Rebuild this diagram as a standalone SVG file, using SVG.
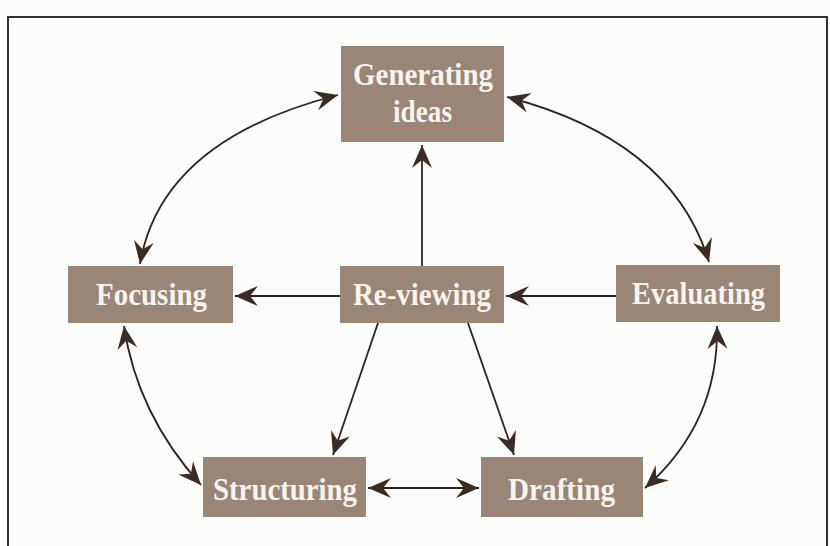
<svg xmlns="http://www.w3.org/2000/svg" width="830" height="546" viewBox="0 0 830 546">
<style>
.box{fill:#9a8677;}
.lbl{font-family:"Liberation Serif","Times New Roman",serif;font-weight:bold;font-size:32px;fill:#f7f4ef;}
.ln{fill:none;stroke:#2b2320;stroke-width:1.8;}
</style>
<defs>
<marker id="ah" markerUnits="userSpaceOnUse" markerWidth="26" markerHeight="24" viewBox="-24 -12 26 24" refX="0" refY="0" orient="auto-start-reverse">
<path d="M0,0 L-23,-10 L-15,0 L-23,10 Z" fill="#3b2b26"/>
</marker>
</defs>
<rect x="0" y="0" width="830" height="546" fill="#fcfcfa"/>
<rect x="8" y="17" width="819" height="545" fill="none" stroke="#333" stroke-width="2"/>
<g id="connectors">
<line class="ln" x1="422" y1="266" x2="422" y2="145" marker-end="url(#ah)"/>
<line class="ln" x1="340" y1="296" x2="235" y2="296" marker-end="url(#ah)"/>
<line class="ln" x1="616" y1="296" x2="506" y2="296" marker-end="url(#ah)"/>
<line class="ln" x1="378" y1="323" x2="333" y2="455" marker-end="url(#ah)"/>
<line class="ln" x1="468" y1="323" x2="514" y2="455" marker-end="url(#ah)"/>
<line class="ln" x1="368" y1="488" x2="479" y2="488" marker-start="url(#ah)" marker-end="url(#ah)"/>
<path class="ln" d="M140,264 Q161,140 338,95" marker-start="url(#ah)" marker-end="url(#ah)"/>
<path class="ln" d="M507,97 Q672,140 709,262" marker-start="url(#ah)" marker-end="url(#ah)"/>
<path class="ln" d="M124,326 Q137,414 201,485" marker-start="url(#ah)" marker-end="url(#ah)"/>
<path class="ln" d="M717,326 Q719,423 645,488" marker-start="url(#ah)" marker-end="url(#ah)"/>
</g>
<g id="generating">
<rect class="box" x="341" y="46" width="163" height="96"/>
<text class="lbl" x="353" y="85" textLength="140" lengthAdjust="spacingAndGlyphs">Generating</text>
<text class="lbl" x="393" y="122" textLength="59" lengthAdjust="spacingAndGlyphs">ideas</text>
</g>
<g id="focusing">
<rect class="box" x="68" y="266" width="165" height="57"/>
<text class="lbl" x="96" y="305" textLength="111" lengthAdjust="spacingAndGlyphs">Focusing</text>
</g>
<g id="reviewing">
<rect class="box" x="340" y="266" width="164" height="57"/>
<text class="lbl" x="353" y="305" textLength="138" lengthAdjust="spacingAndGlyphs">Re-viewing</text>
</g>
<g id="evaluating">
<rect class="box" x="616" y="265" width="164" height="57"/>
<text class="lbl" x="632" y="304" textLength="133" lengthAdjust="spacingAndGlyphs">Evaluating</text>
</g>
<g id="structuring">
<rect class="box" x="203" y="457" width="163" height="60"/>
<text class="lbl" x="213" y="500" textLength="144" lengthAdjust="spacingAndGlyphs">Structuring</text>
</g>
<g id="drafting">
<rect class="box" x="481" y="457" width="162" height="60"/>
<text class="lbl" x="508" y="500" textLength="107" lengthAdjust="spacingAndGlyphs">Drafting</text>
</g>
</svg>
